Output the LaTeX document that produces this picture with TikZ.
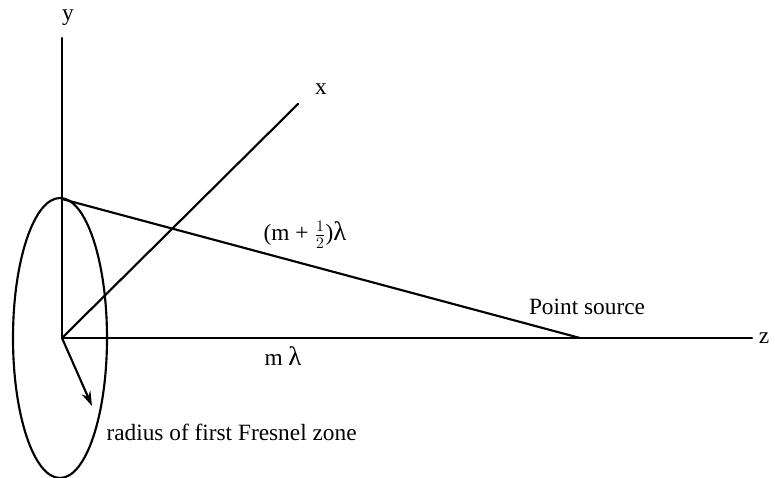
\documentclass[tikz,border=0pt]{standalone}
\usepackage{fontspec}
\setmainfont{Liberation Serif}
\usetikzlibrary{calc,arrows.meta}

\begin{document}
\begin{tikzpicture}[x=0.75pt, y=-0.75pt, >=Stealth, line cap=round, line join=round,
  font=\fontsize{17.5}{21}\selectfont, line width=1.6pt]

  \useasboundingbox (0,0) rectangle (775,478);

  % ===== 点 =====
  \coordinate (O) at (62,338);
  \coordinate (ytip) at (62,38);
  \coordinate (xtip) at (298,104);
  \coordinate (ztip) at (752,338);
  \coordinate (top) at (62,199);
  \coordinate (src) at (580,338);
  \coordinate (rtip) at (92,406);

  % ===== 軸 =====
  \draw (O) -- (ytip);
  \draw (O) -- (xtip);
  \draw (O) -- (ztip);
  \node (ylab) at (68,18) {y};
  \node (xlab) at (321,89) {x};
  \node[right=1pt] (zlab) at (ztip) {z};

  % ===== 第一フレネル帯 =====
  \draw (60,338) ellipse [x radius=47, y radius=140];
  \draw[-{Stealth[length=11pt,width=7pt]}] (O) -- (rtip);

  % ===== 経路 =====
  \draw (top) -- (src);

  % ===== ラベル =====
  \node (half) at (305,235) {(m + $\frac{1}{2}$)\scalebox{1.15}{λ}};
  \node (srclab) at (587,307) {Point source};
  \node (mlam) at (283,356) {m \scalebox{1.15}{λ}};
  \node[right] (radlab) at (101,432) {radius of first Fresnel zone};

\end{tikzpicture}
\end{document}
